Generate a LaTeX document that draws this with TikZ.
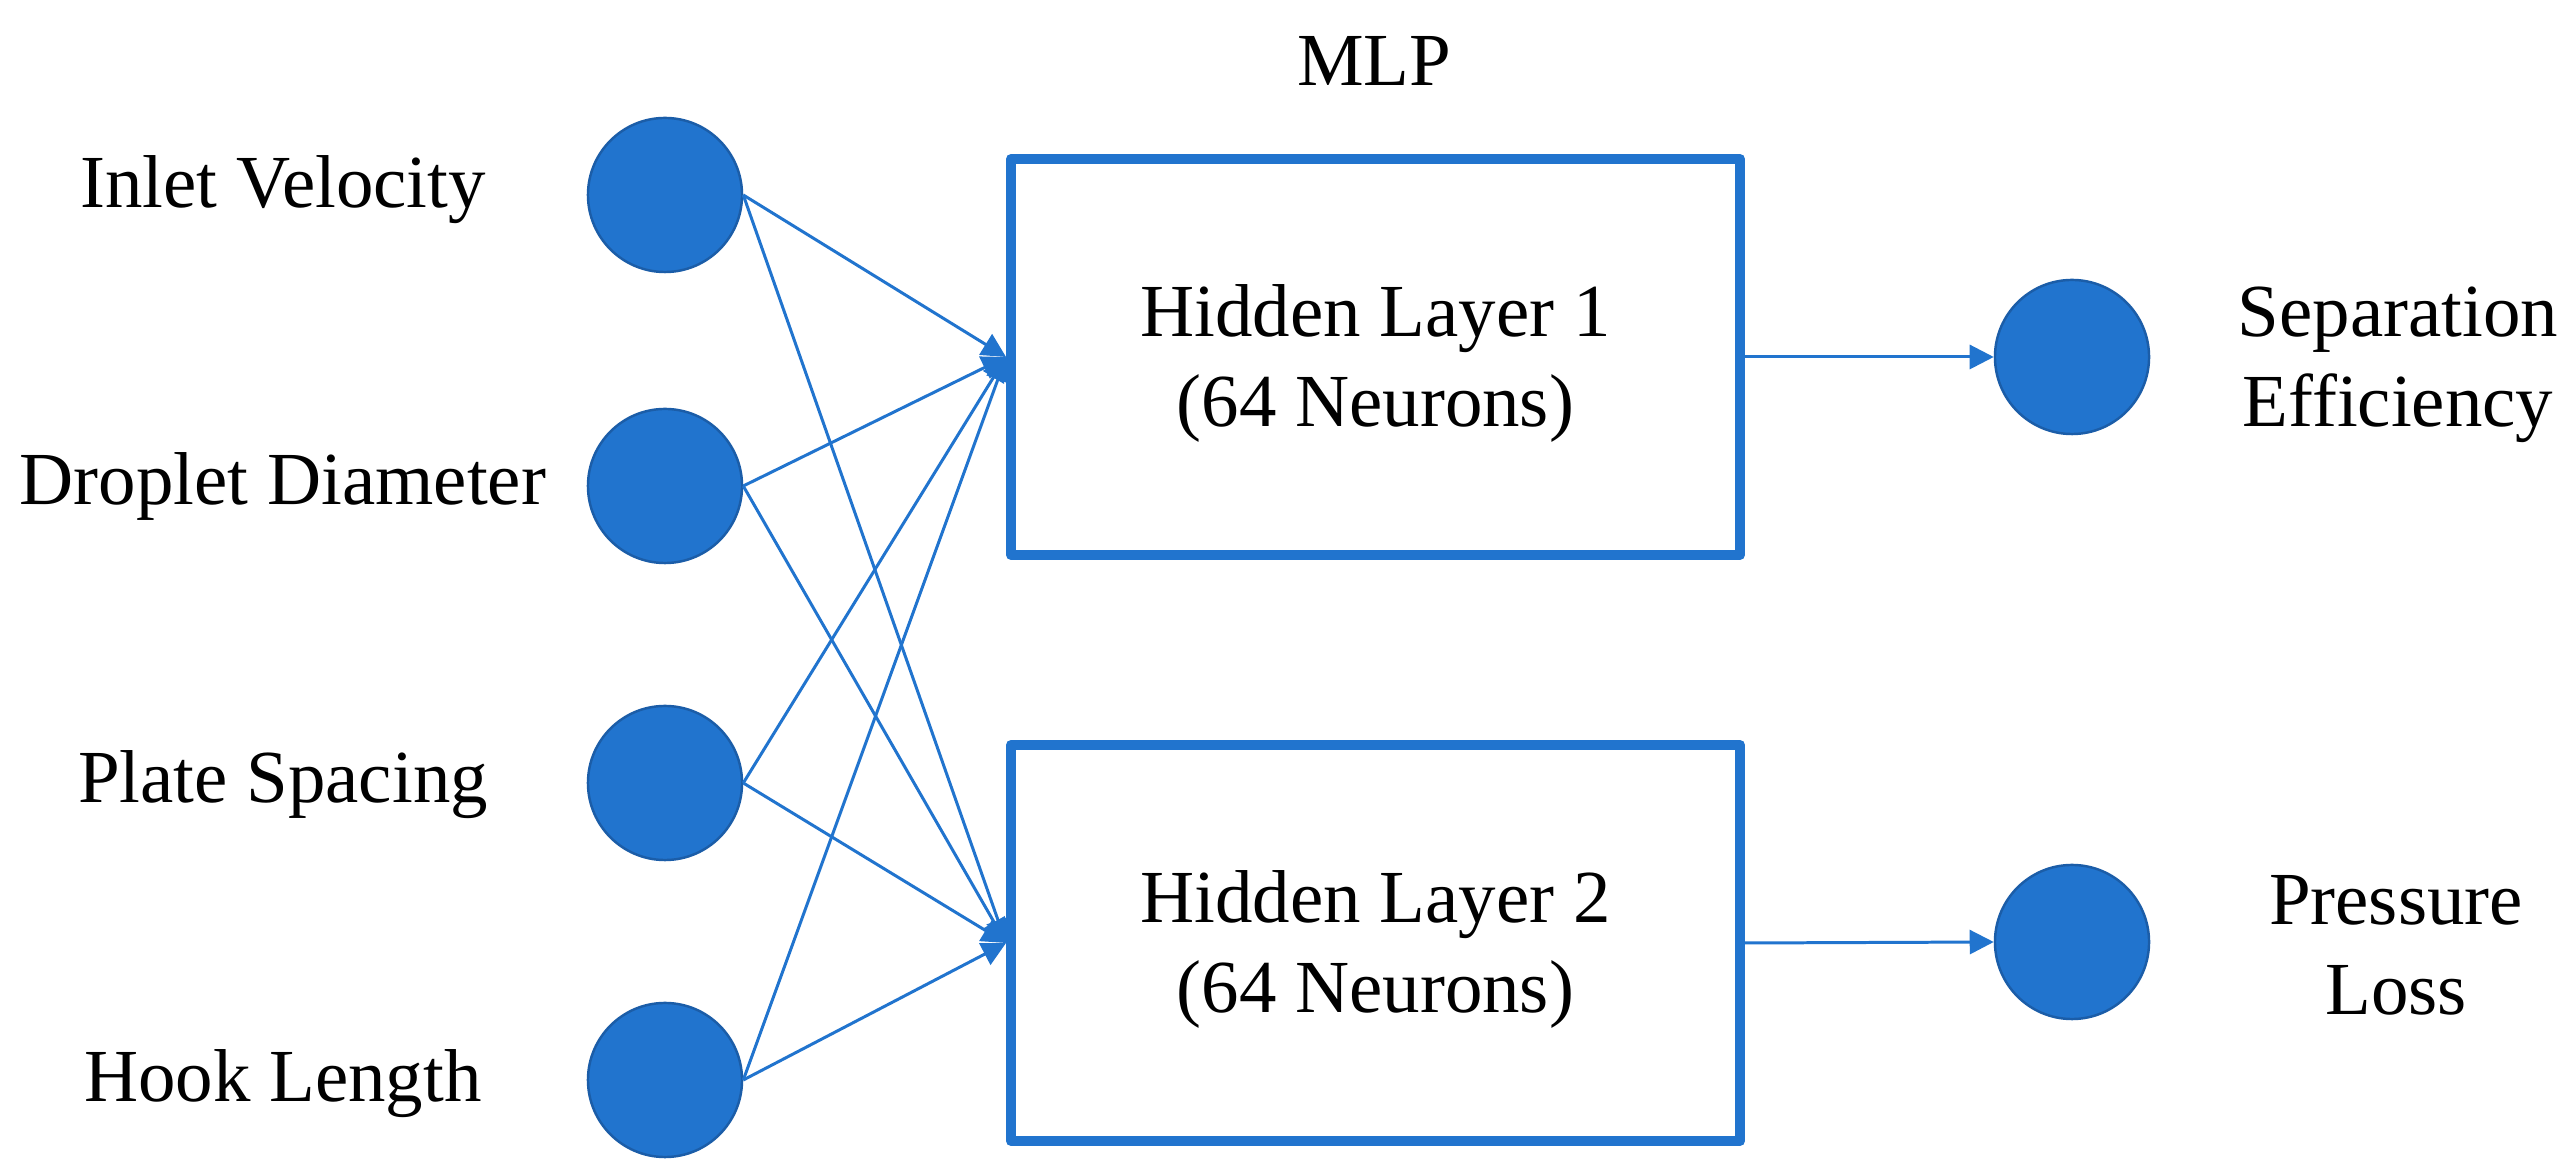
\documentclass[tikz,border=0pt]{standalone}
\usepackage{fontspec}
\IfFontExistsTF{LiberationSerif-Regular.ttf}{\newfontfamily\timesfam{LiberationSerif-Regular.ttf}}{\newfontfamily\timesfam{Liberation Serif}}
\usetikzlibrary{arrows.meta}
\definecolor{nnblue}{HTML}{2174CE}
\definecolor{nnedge}{HTML}{1B5DA8}
\newcommand\labfont{\timesfam\fontsize{21.3}{25.6}\selectfont}
\begin{document}
\begin{tikzpicture}[x=0.01cm,y=-0.01cm,
  neuron/.style={circle, fill=nnblue, draw=nnedge, line width=0.7pt, minimum size=1.54cm, inner sep=0pt},
  layerbox/.style={rectangle, draw=nnblue, line width=2.7pt, minimum width=7.29cm, minimum height=3.96cm, line join=round},
  lab/.style={font=\labfont, text=black, inner sep=0pt},
  conn/.style={draw=nnblue, line width=0.85pt, -{Triangle[length=0.24cm,width=0.24cm]}}
]
\useasboundingbox (0,0) rectangle (2572,1174);
\fill[white] (0,0) rectangle (2572,1174);

% texts first
\node[lab, anchor=base] (mlp) at (1374,86) {MLP};
\node[lab, anchor=base] (t1) at (283,208) {Inlet Velocity};
\node[lab, anchor=base] (t2) at (283,505) {Droplet Diameter};
\node[lab, anchor=base] (t3) at (283,803) {Plate Spacing};
\node[lab, anchor=base] (t4) at (283,1102) {Hook Length};
\node[lab, anchor=base, align=center] (ot1) at (2398,427) {Separation\\Efficiency};
\node[lab, anchor=base, align=center] (ot2) at (2396,1015) {Pressure\\Loss};

% hidden layers
\node[layerbox] (h1) at (1375.5,357) {};
\node[layerbox] (h2) at (1375.5,943) {};
\node[lab, anchor=base, align=center] (h1t) at (1375.5,427) {Hidden Layer 1\\(64 Neurons)};
\node[lab, anchor=base, align=center] (h2t) at (1375.5,1013) {Hidden Layer 2\\(64 Neurons)};

% neurons
\node[neuron] (in1) at (665,195) {};
\node[neuron] (in2) at (665,486) {};
\node[neuron] (in3) at (665,783) {};
\node[neuron] (in4) at (665,1080) {};
\node[neuron] (o1) at (2072,357) {};
\node[neuron] (o2) at (2072,942) {};

% connectors
\foreach \i in {1,2,3,4}{
  \draw[conn] (in\i.east) -- (h1.west);
  \draw[conn] (in\i.east) -- (h2.west);
}
\draw[conn] (h1.east) -- (o1.west);
\draw[conn] (h2.east) -- (o2.west);
\end{tikzpicture}
\end{document}
